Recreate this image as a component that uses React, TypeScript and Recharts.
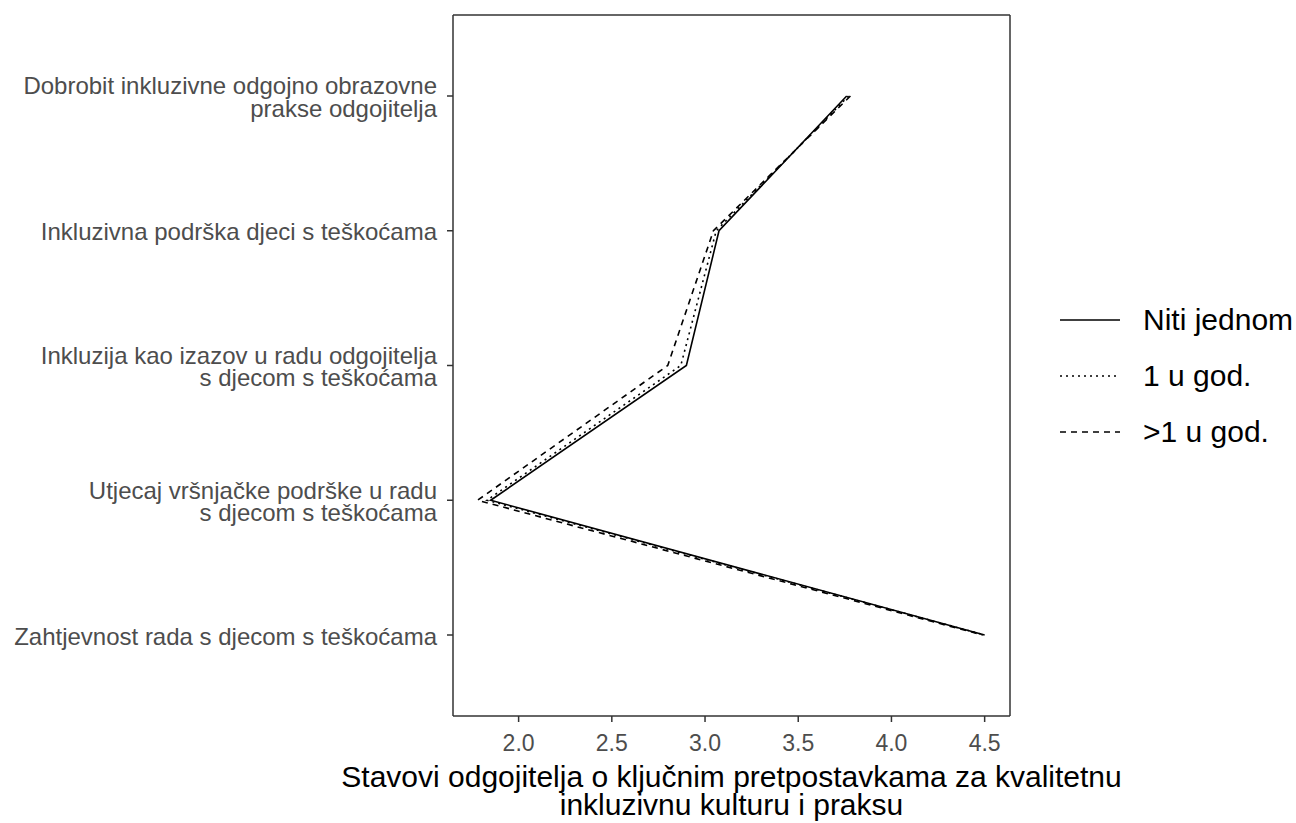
import React from "react";
import { LineChart, Line, XAxis, YAxis, Legend } from "recharts";

// kategorije (odozgo prema dolje)
const categories = [
  "Dobrobit inkluzivne odgojno obrazovne\nprakse odgojitelja",
  "Inkluzivna podrška djeci s teškoćama",
  "Inkluzija kao izazov u radu odgojitelja\ns djecom s teškoćama",
  "Utjecaj vršnjačke podrške u radu\ns djecom s teškoćama",
  "Zahtjevnost rada s djecom s teškoćama",
];

const nitiJednom = [3.76, 3.075, 2.9, 1.85, 4.5];
const jednomGod = [3.77, 3.06, 2.87, 1.83, 4.5];
const visePutaGod = [3.78, 3.045, 2.8, 1.78, 4.49];

const xTicks = [2.0, 2.5, 3.0, 3.5, 4.0, 4.5];
const X_MIN = 1.648;
const X_MAX = 4.636;

const SERIES = [
  { key: "niti", name: "Niti jednom", dash: undefined },
  { key: "jedan", name: "1 u god.", dash: "2 4" },
  { key: "vise", name: ">1 u god.", dash: "6 5" },
];

const data = categories.map((name, i) => ({
  name,
  niti: nitiJednom[i],
  jedan: jednomGod[i],
  vise: visePutaGod[i],
}));

const FONT = "'Liberation Sans', Arial, sans-serif";
const BORDER = "#333";

function YTick(props: any) {
  const { x, y, payload } = props;
  const lines = String(payload.value).split("\n");
  const fs = 24;
  const lh = 22.5;
  const start = y - ((lines.length - 1) * lh) / 2 + fs * 0.355 + 1;
  return (
    <text
      x={x}
      y={start}
      textAnchor="end"
      fill="#4D4D4D"
      fontSize={fs}
      fontFamily={FONT}
    >
      {lines.map((l, i) => (
        <tspan key={i} x={x} y={start + i * lh}>
          {l}
        </tspan>
      ))}
    </text>
  );
}

function XTick(props: any) {
  const { x, y, payload } = props;
  return (
    <text
      x={x}
      y={y + 27}
      textAnchor="middle"
      fill="#4D4D4D"
      fontSize={23}
      fontFamily={FONT}
    >
      {Number(payload.value).toFixed(1)}
    </text>
  );
}

function XTitle(props: any) {
  const vb = props.viewBox || {};
  const cx = vb.x + vb.width / 2;
  return (
    <text textAnchor="middle" fill="#000" fontSize={30} fontFamily={FONT}>
      <tspan x={cx} y={vb.y + 71}>
        Stavovi odgojitelja o ključnim pretpostavkama za kvalitetnu
      </tspan>
      <tspan x={cx} y={vb.y + 99}>
        inkluzivnu kulturu i praksu
      </tspan>
    </text>
  );
}

function LegendBox() {
  return (
    <div style={{ fontFamily: FONT, fontSize: 30, color: "#000" }}>
      {SERIES.map((s) => (
        <div
          key={s.key}
          style={{ display: "flex", alignItems: "center", height: 56 }}
        >
          <svg width={60} height={10} style={{ marginRight: 23 }}>
            <line
              x1={0}
              y1={5}
              x2={60}
              y2={5}
              stroke="#000"
              strokeWidth={1.6}
              strokeDasharray={s.dash}
            />
          </svg>
          <span style={{ whiteSpace: "nowrap" }}>{s.name}</span>
        </div>
      ))}
    </div>
  );
}

export default function App() {
  return (
    <div style={{ position: "absolute", left: 0, top: 0, background: "#fff" }}>
      <LineChart
        width={1296}
        height={823}
        data={data}
        layout="vertical"
        margin={{ top: 14, right: 285, bottom: 0, left: 0 }}
      >
        <XAxis
          type="number"
          domain={[X_MIN, X_MAX]}
          ticks={xTicks}
          allowDataOverflow
          height={107}
          tickSize={6}
          tick={<XTick />}
          axisLine={{ stroke: BORDER, strokeWidth: 1.5 }}
          tickLine={{ stroke: BORDER, strokeWidth: 1.5 }}
          label={<XTitle />}
        />
        <XAxis
          xAxisId="top"
          orientation="top"
          type="number"
          domain={[X_MIN, X_MAX]}
          allowDataOverflow
          height={1}
          tick={false}
          tickLine={false}
          axisLine={{ stroke: BORDER, strokeWidth: 1.5 }}
        />
        <YAxis
          type="category"
          dataKey="name"
          scale="point"
          padding={{ top: 81, bottom: 81 }}
          width={453}
          tickSize={6}
          tickMargin={10}
          tick={<YTick />}
          axisLine={{ stroke: BORDER, strokeWidth: 1.5 }}
          tickLine={{ stroke: BORDER, strokeWidth: 1.5 }}
          interval={0}
        />
        <YAxis
          yAxisId="right"
          orientation="right"
          type="category"
          dataKey="name"
          scale="point"
          padding={{ top: 81, bottom: 81 }}
          width={1}
          tick={false}
          tickLine={false}
          axisLine={{ stroke: BORDER, strokeWidth: 1.5 }}
        />
        {SERIES.map((s) => (
          <Line
            key={s.key}
            dataKey={s.key}
            name={s.name}
            type="linear"
            stroke="#000"
            strokeWidth={1.6}
            strokeDasharray={s.dash}
            dot={false}
            activeDot={false}
            isAnimationActive={false}
          />
        ))}
        <Legend
          layout="vertical"
          align="center"
          verticalAlign="middle"
          content={<LegendBox />}
          wrapperStyle={{ left: 1060, top: 292, width: 236 }}
        />
      </LineChart>
    </div>
  );
}
